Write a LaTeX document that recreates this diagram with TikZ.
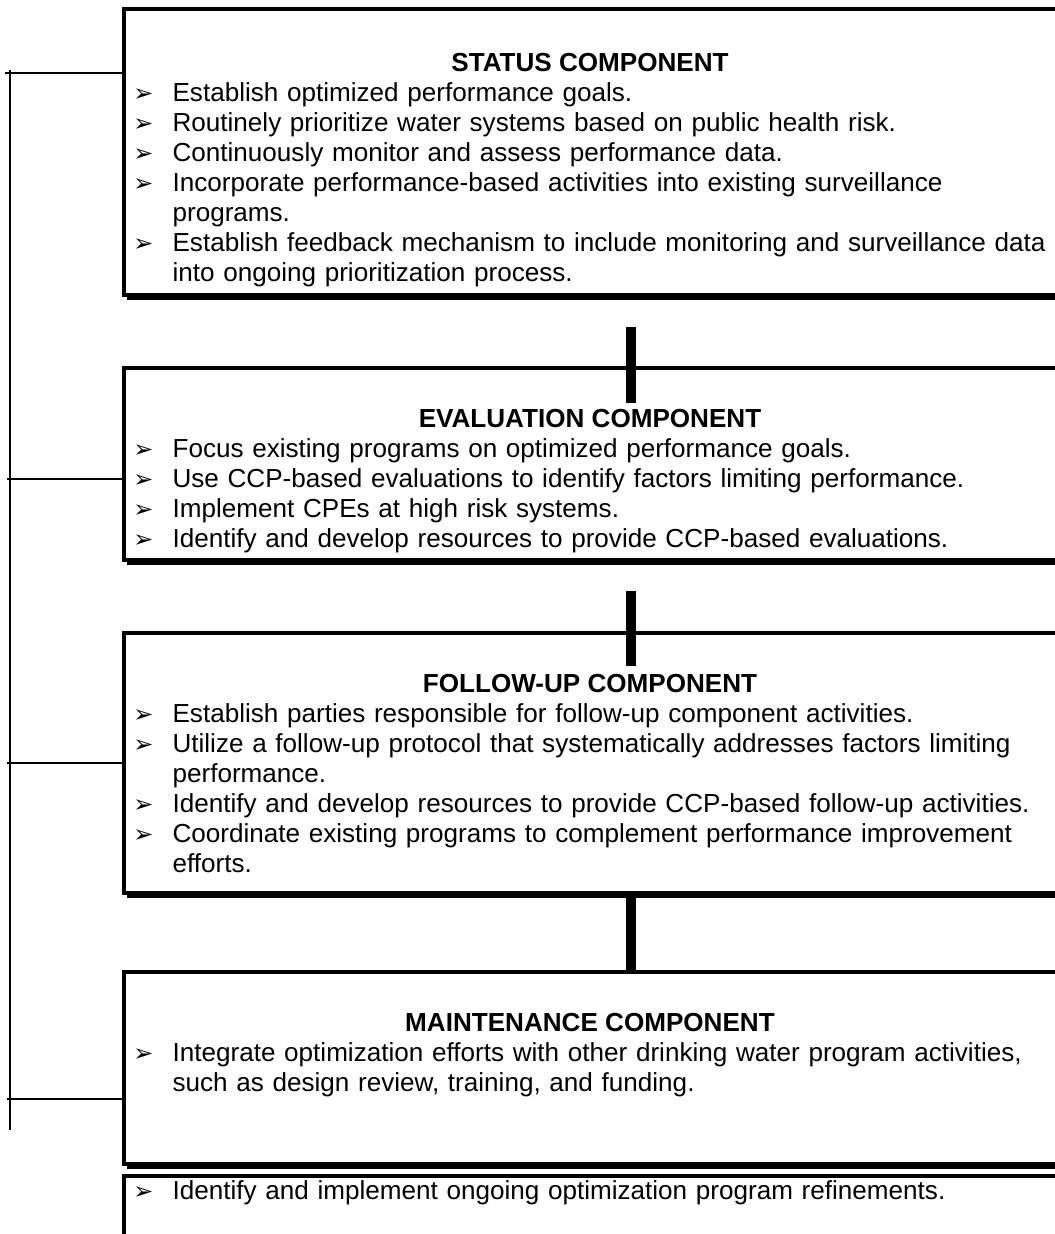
\documentclass[tikz,border=0pt]{standalone}
\usepackage{fontspec}
\setmainfont{Liberation Sans}
\newfontfamily\bulfont{DejaVu Sans}
\usetikzlibrary{positioning}

\newlength{\bulw}\setlength{\bulw}{18pt}
\newcommand{\bitem}[1]{\hangindent=\bulw\hangafter=1\noindent\makebox[\bulw][l]{\bulfont\fontsize{11}{11}\selectfont ➢}#1\par}

\begin{document}
\fontsize{12}{13.8}\selectfont
\begin{tikzpicture}[x=0.46pt,y=-0.46pt,
        compbox/.style={draw,line width=1.84pt,anchor=north west,outer sep=0pt,inner sep=0pt,minimum width=437.5pt},
        comptitle/.style={anchor=base,font=\bfseries},
        complist/.style={anchor=base west,text width=460pt,align=left,inner sep=0pt},
        shadowline/.style={line width=1.84pt},
        link/.style={line width=4.6pt},
        bracket/.style={line width=0.92pt}]

  \useasboundingbox (0,0) rectangle (1055,1234);

  \node[compbox,minimum height=131.6pt] (status)      at (124,9)    {};
  \node[compbox,minimum height=88.3pt]  (evaluation)  at (124,368)  {};
  \node[compbox,minimum height=119.6pt] (followup)    at (124,633)  {};
  \node[compbox,minimum height=88.3pt]  (maintenance) at (124,972)  {};
  \node[compbox,minimum height=46pt]    (refine)      at (124,1176) {};

  \foreach \b in {status,evaluation,followup,maintenance}
    \draw[shadowline] ([xshift=1.4pt,yshift=-1.4pt]\b.south west) -- ([yshift=-1.4pt]\b.south east);

  \node[comptitle] (statustitle)      at (590,71)   {STATUS COMPONENT};
  \node[comptitle] (evaluationtitle)  at (590,427)  {EVALUATION COMPONENT};
  \node[comptitle] (followuptitle)    at (590,692)  {FOLLOW-UP COMPONENT};
  \node[comptitle] (maintenancetitle) at (590,1031) {MAINTENANCE COMPONENT};

  \node[complist] (statuslist) at (133,101) {%
    \bitem{Establish optimized performance goals.}%
    \bitem{Routinely prioritize water systems based on public health risk.}%
    \bitem{Continuously monitor and assess performance data.}%
    \bitem{Incorporate performance-based activities into existing surveillance\newline programs.}%
    \bitem{Establish feedback mechanism to include monitoring and surveillance data\newline into ongoing prioritization process.}};
  \node[complist] (evaluationlist) at (133,457) {%
    \bitem{Focus existing programs on optimized performance goals.}%
    \bitem{Use CCP-based evaluations to identify factors limiting performance.}%
    \bitem{Implement CPEs at high risk systems.}%
    \bitem{Identify and develop resources to provide CCP-based evaluations.}};
  \node[complist] (followuplist) at (133,722) {%
    \bitem{Establish parties responsible for follow-up component activities.}%
    \bitem{Utilize a follow-up protocol that systematically addresses factors limiting\newline performance.}%
    \bitem{Identify and develop resources to provide CCP-based follow-up activities.}%
    \bitem{Coordinate existing programs to complement performance improvement\newline efforts.}};
  \node[complist] (maintenancelist) at (133,1061) {%
    \bitem{Integrate optimization efforts with other drinking water program activities,\newline such as design review, training, and funding.}};
  \node[complist] (refinelist) at (133,1199) {%
    \bitem{Identify and implement ongoing optimization program refinements.}};

  \coordinate (c1a) at (631,327);  \coordinate (c1b) at (631,403);
  \coordinate (c2a) at (631,591);  \coordinate (c2b) at (631,666);
  \coordinate (c3a) at (631,897);  \coordinate (c3b) at (631,972);
  \draw[link] (c1a) -- (c1b);
  \draw[link] (c2a) -- (c2b);
  \draw[link] (c3a) -- (c3b);

  \coordinate (btop) at (10,70);
  \coordinate (bbot) at (10,1130);
  \coordinate (t1) at (5,73);
  \coordinate (t2) at (7,479);
  \coordinate (t3) at (7,763);
  \coordinate (t4) at (7,1099);
  \draw[bracket] (btop) -- (bbot);
  \draw[bracket] (t1) -- (t1 -| status.west);
  \draw[bracket] (t2) -- (t2 -| evaluation.west);
  \draw[bracket] (t3) -- (t3 -| followup.west);
  \draw[bracket] (t4) -- (t4 -| maintenance.west);

\end{tikzpicture}
\end{document}
